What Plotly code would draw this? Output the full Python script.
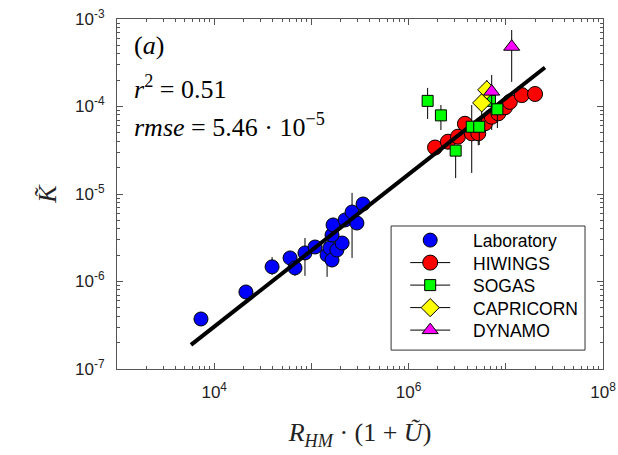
import plotly.graph_objects as go

# ---------------- data ----------------
lab_x = [7.31e3, 2.12e4, 3.94e4, 6.03e4, 6.78e4, 8.59e4, 1.09e5, 1.45e5, 1.55e5, 1.63e5,
         1.83e5, 2.07e5, 1.63e5, 1.67e5, 2.22e5, 2.62e5, 2.94e5, 3.40e5]
lab_y = [3.73e-7, 7.59e-7, 1.47e-6, 1.86e-6, 1.43e-6, 2.12e-6, 2.48e-6, 2.01e-6, 2.42e-6, 1.76e-6,
         2.29e-6, 2.75e-6, 3.40e-6, 4.43e-6, 5.05e-6, 6.22e-6, 4.66e-6, 7.69e-6]
lab_hi = [None, 8.6e-7, 1.90e-6, None, None, 3.14e-6, None, None, None, None,
          None, None, None, 5.32e-6, None, 1.03e-5, None, None]
lab_lo = [None, None, 1.19e-6, None, 1.16e-6, 1.16e-6, None, 1.13e-6, None, None,
          None, None, None, None, None, 1.86e-6, None, None]

hw_x = [1.87e6, 2.54e6, 3.22e6, 3.80e6, 4.46e6, 5.21e6, 6.11e6, 7.16e6, 8.38e6, 9.82e6,
        1.10e7, 1.46e7, 2.00e7]
hw_y = [3.40e-5, 3.96e-5, 4.52e-5, 6.35e-5, 4.94e-5, 4.94e-5, 6.43e-5, 7.64e-5, 8.36e-5, 9.80e-5,
        1.13e-4, 1.35e-4, 1.39e-4]
hw_hi = [None, None, None, None, 1.04e-4, None, None, None, None, None, None, None, None]
hw_lo = [None, None, None, None, 1.74e-5, 3.6e-5, None, 5.4e-5, None, None, None, None, None]

sg_x = [1.57e6, 2.15e6, 3.05e6, 4.46e6, 5.33e6, 6.87e6, 8.19e6]
sg_y = [1.16e-4, 7.92e-5, 3.13e-5, 5.87e-5, 5.87e-5, 1.16e-4, 9.29e-5]
sg_hi = [1.63e-4, 1.04e-4, 3.44e-5, None, 7.02e-5, None, 1.05e-4]
sg_lo = [7.20e-5, 5.38e-5, 1.52e-5, None, 3.63e-5, None, 5.68e-5]

cp_x = [5.65e6, 6.37e6]
cp_y = [1.10e-4, 1.55e-4]
cp_hi = [1.67e-4, 2.01e-4]
cp_lo = [6.65e-5, 1.19e-4]

dy_x = [7.16e6, 1.15e7]
dy_y = [1.48e-4, 4.82e-4]
dy_hi = [2.29e-4, 7.48e-4]
dy_lo = [9.62e-5, 1.91e-4]

fit_x = [5.77e3, 2.53e7]
fit_y = [1.89e-7, 2.79e-4]

x_major = [1e3, 1e4, 1e5, 1e6, 1e7, 1e8]
x_labels = ["", "10<sup>4</sup>", "", "10<sup>6</sup>", "", "10<sup>8</sup>"]
y_major = [1e-7, 1e-6, 1e-5, 1e-4, 1e-3]
y_labels = ["10<sup>-7</sup>", "10<sup>-6</sup>", "10<sup>-5</sup>", "10<sup>-4</sup>", "10<sup>-3</sup>"]

series_names = ["Laboratory", "HIWINGS", "SOGAS", "CAPRICORN", "DYNAMO"]

r2_text = "<i>r</i><sup>2</sup> = 0.51"
rmse_text = "<i>rmse</i> = 5.46 · 10<sup>−5</sup>"
panel_text = "(<i>a</i>)"

# ---------------- helpers ----------------
def errs(y, hi, lo):
    plus = [(h - v) if h is not None else 0 for v, h in zip(y, hi)]
    minus = [(v - l) if l is not None else 0 for v, l in zip(y, lo)]
    return dict(type="data", symmetric=False, array=plus, arrayminus=minus,
                color="black", thickness=1, width=0)

def minor_vals(majors):
    out = []
    for m in majors[:-1]:
        out += [m * k for k in range(2, 10)]
    return out

fig = go.Figure()

series = [
    (series_names[0], lab_x, lab_y, lab_hi, lab_lo, "circle", "#0000ff", 14, False),
    (series_names[1], hw_x, hw_y, hw_hi, hw_lo, "circle", "#ff0000", 15, True),
]
series2 = [
    (series_names[2], sg_x, sg_y, sg_hi, sg_lo, "square", "#00ff00", 11, True),
    (series_names[3], cp_x, cp_y, cp_hi, cp_lo, "diamond", "#ffff00", 14, True),
    (series_names[4], dy_x, dy_y, dy_hi, dy_lo, "triangle-up", "#ff00ff", 14, True),
]

def add_series(s):
    name, xs, ys, hi, lo, sym, col, size, _ = s
    fig.add_trace(go.Scatter(x=xs, y=ys, mode="markers", name=name, showlegend=False,
                             marker=dict(symbol=sym, color=col, size=size,
                                         line=dict(color="black", width=1)),
                             error_y=errs(ys, hi, lo)))

for s in series:
    add_series(s)
fig.add_trace(go.Scatter(x=fit_x, y=fit_y, mode="lines", showlegend=False,
                         line=dict(color="black", width=4)))
for s in series2:
    add_series(s)

# legend-only symbol entries (labels drawn as annotations for exact spacing)
for s in series + series2:
    name, xs, ys, hi, lo, sym, col, size, withline = s
    fig.add_trace(go.Scatter(x=[None], y=[None], name="\u00a0",
                             mode="lines+markers" if withline else "markers",
                             line=dict(color="black", width=1),
                             marker=dict(symbol=sym, color=col, size=size,
                                         line=dict(color="black", width=1))))

axis_common = dict(type="log", showgrid=False, zeroline=False, showline=True,
                   linecolor="#555555", linewidth=1, mirror="allticks",
                   ticks="inside", ticklen=6, tickcolor="#555555", tickwidth=1,
                   tickmode="array", automargin=False,
                   tickfont=dict(family="Liberation Sans, Arial, sans-serif", size=17, color="#222222"),
                   title_font=dict(family="Liberation Serif, serif", size=26, color="#222222"))

fig.update_xaxes(**axis_common, range=[3, 8], tickvals=x_major, ticktext=x_labels,
                 minor=dict(tickmode="array", tickvals=minor_vals(x_major), ticks="inside",
                            ticklen=3, tickcolor="#555555"),
                 ticklabelstandoff=8,
                 title=dict(text="<i>R</i><sub><i>HM</i></sub> · (1 + <i>Ũ</i>)", standoff=21))
fig.update_yaxes(**axis_common, range=[-7, -3], tickvals=y_major, ticktext=y_labels,
                 minor=dict(tickmode="array", tickvals=minor_vals(y_major), ticks="inside",
                            ticklen=3, tickcolor="#555555"),
                 ticklabelstandoff=8,
                 title=dict(text="<i>K\u0303</i>", standoff=10))

ann_font = dict(family="Liberation Serif, serif", size=26, color="black")
fig.add_annotation(x=0.03, y=0.925, xref="paper", yref="paper", text=panel_text,
                   showarrow=False, xanchor="left", yanchor="middle", font=ann_font)
fig.add_annotation(x=0.03, y=0.805, xref="paper", yref="paper", text=r2_text,
                   showarrow=False, xanchor="left", yanchor="middle", font=ann_font)
fig.add_annotation(x=0.03, y=0.695, xref="paper", yref="paper", text=rmse_text,
                   showarrow=False, xanchor="left", yanchor="middle", font=ann_font)

# legend frame
fig.add_shape(type="rect", xref="paper", yref="paper", x0=0.564, x1=0.963, y0=0.054, y1=0.4086,
              line=dict(color="#333333", width=1), fillcolor="white", layer="above")

# legend labels
leg_y0, leg_dy = 0.3657, 0.0643
for i, nm in enumerate(series_names):
    fig.add_annotation(x=0.7284, y=leg_y0 - i * leg_dy, xref="paper", yref="paper", text=nm,
                       showarrow=False, xanchor="left", yanchor="middle",
                       font=dict(family="Liberation Sans, Arial, sans-serif", size=17.5, color="black"))

fig.update_layout(
    width=618, height=455,
    margin=dict(l=117, r=15, t=19, b=86, autoexpand=False),
    paper_bgcolor="white", plot_bgcolor="white",
    legend=dict(x=0.593, y=0.4147, xanchor="left", yanchor="top",
                bgcolor="rgba(0,0,0,0)", borderwidth=0,
                font=dict(family="Liberation Sans, Arial, sans-serif", size=15, color="black"),
                itemwidth=40, tracegroupgap=0),
)

fig.write_html("out.html", config={"displayModeBar": False},
               post_script="document.body.style.margin='0';document.body.style.padding='0';")
